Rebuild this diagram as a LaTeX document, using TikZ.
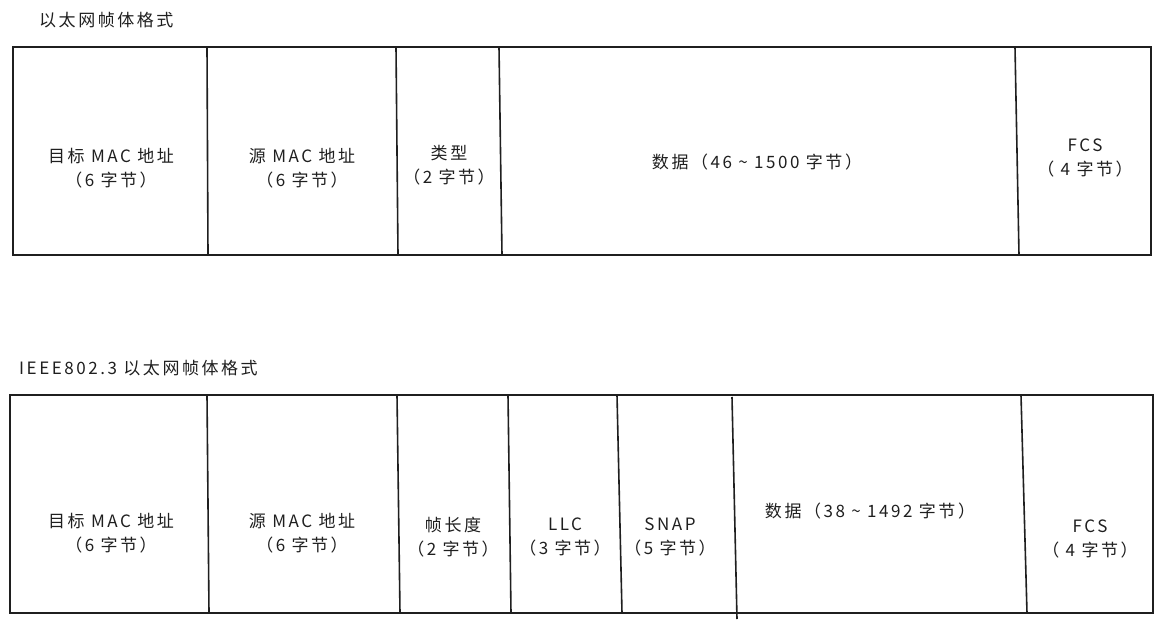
\documentclass[tikz,border=0pt]{standalone}
\usepackage{fontspec}
\setmainfont{Noto Sans CJK SC}[LetterSpace=15]
\begin{document}
\begin{tikzpicture}[x=1pt,y=-1pt,
  frame/.style={draw=black!88, line width=2pt},
  divider/.style={draw=black!88, line width=1.6pt},
  lbl/.style={font=\fontsize{17}{24}\selectfont, text=black!88, align=center, inner sep=0pt},
  ttl/.style={font=\fontsize{17}{20}\selectfont, text=black!88, anchor=west, inner sep=0pt}]
\useasboundingbox[fill=white] (0,0) rectangle (1163,627);
% titles
\node[ttl] (t1) at (39,20) {以太网帧体格式};
\node[ttl] (t2) at (19,368) {IEEE802.3 以太网帧体格式};
% top frame
\draw[frame] (13,47) rectangle (1151,255);
\draw[divider] (207,47) -- (208,255);
\draw[divider] (396,47) -- (398,255);
\draw[divider] (499,47) -- (502,255);
\draw[divider] (1015,47) -- (1019,255);
\node[lbl] (a1) at (111,168) {目标 MAC 地址\\（6 字节）};
\node[lbl] (a2) at (302,168) {源 MAC 地址\\（6 字节）};
\node[lbl] (a3) at (449,165) {类型\\（2 字节）};
\node[lbl] (a4) at (757,162) {数据（46 \textasciitilde{} 1500 字节）};
\node[lbl] (a5) at (1085,158) {FCS\\（ 4 字节）};
% bottom frame
\draw[frame] (10,395) rectangle (1153,613);
\draw[divider] (207,395) -- (209,613);
\draw[divider] (397,395) -- (400,613);
\draw[divider] (508,395) -- (511,613);
\draw[divider] (617,395) -- (622,613);
\draw[divider] (732,397) -- (737,619);
\draw[divider] (1021,395) -- (1027,613);
\node[lbl] (b1) at (111,533) {目标 MAC 地址\\（6 字节）};
\node[lbl] (b2) at (302,533) {源 MAC 地址\\（6 字节）};
\node[lbl] (b3) at (453,537) {帧长度\\（2 字节）};
\node[lbl] (b4) at (565,537) {LLC\\（3 字节）};
\node[lbl] (b5) at (670,537) {SNAP\\（5 字节）};
\node[lbl] (b6) at (870,511) {数据（38 \textasciitilde{} 1492 字节）};
\node[lbl] (b7) at (1090,539) {FCS\\（ 4 字节）};
\end{tikzpicture}
\end{document}
